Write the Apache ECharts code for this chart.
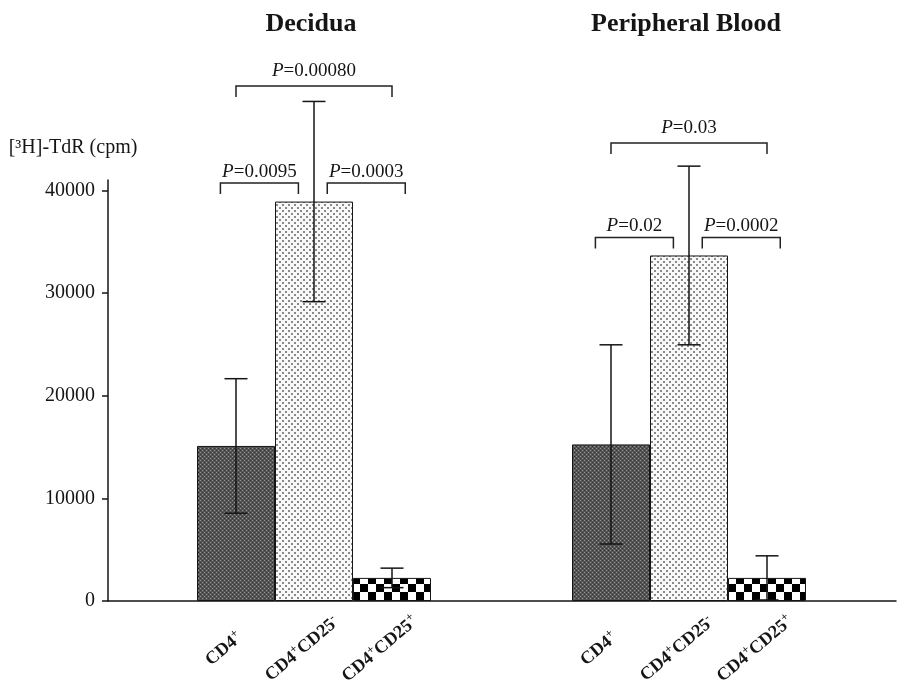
<!DOCTYPE html>
<html><head><meta charset="utf-8">
<script src="https://cdn.jsdelivr.net/npm/echarts@6/dist/echarts.min.js"></script>
<style>html,body{margin:0;padding:0;background:#fff}#c{width:897px;height:684px}</style>
</head><body><div id="c"></div>
<script>
// ---- data ----
const categories = ['CD4+', 'CD4+CD25-', 'CD4+CD25+'];
const panelTitles = ['Decidua', 'Peripheral Blood'];
const deciduaMean = [15100, 38900, 2250];
const deciduaErr = [6550, 9750, 950];
const bloodMean = [15250, 33650, 2250];
const bloodErr = [9700, 8700, 2150];
const yTicks = [0, 10000, 20000, 30000, 40000];
const yMax = 41000;
const deciduaPFrom = [0, 1, 0];
const deciduaPTo = [1, 2, 2];
const deciduaPY = [40700, 40700, 50150];
const deciduaPText = ['0.0095', '0.0003', '0.00080'];
const bloodPFrom = [0, 1, 0];
const bloodPTo = [1, 2, 2];
const bloodPY = [35400, 35400, 44600];
const bloodPText = ['0.02', '0.0002', '0.03'];

// ---- styles ----
const FONT = '"Liberation Serif", "DejaVu Serif", serif';
const INK = '#151515';
function makePattern(w, h, draw) {
  const c = document.createElement('canvas'); c.width = w; c.height = h;
  draw(c.getContext('2d'));
  return { image: c, repeat: 'repeat' };
}
const patDark = makePattern(4, 4, g => {
  g.fillStyle = '#555555'; g.fillRect(0, 0, 4, 4);
  g.fillStyle = '#959595'; g.fillRect(0, 0, 1, 1); g.fillRect(2, 2, 1, 1);
  g.fillStyle = '#333333'; g.fillRect(2, 0, 1, 1); g.fillRect(0, 2, 1, 1);
});
const patDots = makePattern(6, 6, g => {
  g.fillStyle = '#f8f8f8'; g.fillRect(0, 0, 6, 6);
  g.fillStyle = '#8a8a8a'; g.fillRect(0, 0, 2, 2); g.fillRect(3, 3, 2, 2);
});
const patCheck = makePattern(16, 16, g => {
  g.fillStyle = '#ffffff'; g.fillRect(0, 0, 16, 16);
  g.fillStyle = '#000000'; g.fillRect(0, 0, 8, 8); g.fillRect(8, 8, 8, 8);
});
const barPatterns = [patDark, patDots, patCheck];

const xLabel = {
  interval: 0, rotate: 40, align: 'center', verticalAlign: 'middle',
  margin: 38, padding: [0, 31, 0, 0],
  fontFamily: FONT, fontWeight: 'bold', fontSize: 18, color: INK, lineHeight: 22,
  formatter: v => v.replace(/([+-])/g, '{s|$1}'),
  rich: { s: { fontFamily: FONT, fontWeight: 'bold', fontSize: 12, lineHeight: 12, verticalAlign: 'top', color: INK } }
};

function errorRender(params, api) {
  const x = api.value(0), m = api.value(1), e = api.value(2);
  const top = api.coord([x, m + e]);
  const bot = api.coord([x, m - e]);
  const hw = 11.5;
  const st = { stroke: INK, lineWidth: 1.5 };
  return { type: 'group', children: [
    { type: 'line', shape: { x1: top[0], y1: top[1], x2: bot[0], y2: bot[1] }, style: st },
    { type: 'line', shape: { x1: top[0] - hw, y1: top[1], x2: top[0] + hw, y2: top[1] }, style: st },
    { type: 'line', shape: { x1: bot[0] - hw, y1: bot[1], x2: bot[0] + hw, y2: bot[1] }, style: st }
  ]};
}

function makeBracketRender(pFrom, pTo, pY, pText) {
  return function (params, api) {
    const i = params.dataIndex;
    const f = pFrom[i], t = pTo[i], yv = pY[i];
    const band = api.coord([1, 0])[0] - api.coord([0, 0])[0];
    const wide = (t - f) >= 2;
    const shift = wide ? 0 : (f === 0 ? -0.2 : 0.17) * band;
    const p1 = api.coord([f, yv]), p2 = api.coord([t, yv]);
    const x1 = p1[0] + shift, x2 = p2[0] + shift, y = p1[1];
    const drop = 11;
    return { type: 'group', children: [
      { type: 'polyline', shape: { points: [[x1, y + drop], [x1, y], [x2, y], [x2, y + drop]] },
        style: { stroke: '#222', lineWidth: 1.5, fill: null } },
      { type: 'text', style: {
          text: '{i|P}=' + pText[i], x: (x1 + x2) / 2, y: y - (wide ? 6 : 2),
          align: 'center', verticalAlign: 'bottom',
          fontFamily: FONT, fontSize: 19, fill: INK,
          rich: { i: { fontFamily: FONT, fontSize: 19, fontStyle: 'italic', fill: INK } }
      } }
    ]};
  };
}

function panelSeries(idx, mean, err, pFrom, pTo, pY, pText) {
  return [
    { type: 'bar', xAxisIndex: idx, yAxisIndex: idx, barCategoryGap: '0%',
      data: mean.map((v, i) => ({ value: v, itemStyle: { color: barPatterns[i] } })),
      itemStyle: { borderColor: INK, borderWidth: 1 }, silent: true, animation: false },
    { type: 'custom', xAxisIndex: idx, yAxisIndex: idx, z: 3, clip: false, silent: true, animation: false,
      data: mean.map((m, i) => [i, m, err[i]]), renderItem: errorRender },
    { type: 'custom', xAxisIndex: idx, yAxisIndex: idx, z: 3, clip: false, silent: true, animation: false,
      data: pY.map((y, i) => [pFrom[i], y]), renderItem: makeBracketRender(pFrom, pTo, pY, pText) }
  ];
}

const chart = echarts.init(document.getElementById('c'), null, { renderer: 'canvas' });
chart.setOption({
  animation: false,
  backgroundColor: '#ffffff',
  title: panelTitles.map((t, i) => ({
    text: t, left: [311, 686][i], top: 11, textAlign: 'center', padding: 0,
    textStyle: { fontFamily: FONT, fontWeight: 'bold', fontSize: 26, color: INK }
  })),
  grid: [
    { left: 108, right: 1, top: 180, bottom: 83, outerBoundsMode: 'none', containLabel: false },
    { left: 197, width: 234, top: 180, bottom: 83, outerBoundsMode: 'none', containLabel: false },
    { left: 572, width: 234, top: 180, bottom: 83, outerBoundsMode: 'none', containLabel: false }
  ],
  xAxis: [
    { gridIndex: 0, type: 'value', min: 0, max: 1,
      axisLine: { show: true, lineStyle: { color: INK, width: 1.5 } },
      axisTick: { show: false }, axisLabel: { show: false }, splitLine: { show: false } },
    { gridIndex: 1, type: 'category', data: categories, axisLine: { show: false }, axisTick: { show: false }, axisLabel: xLabel },
    { gridIndex: 2, type: 'category', data: categories, axisLine: { show: false }, axisTick: { show: false }, axisLabel: xLabel }
  ],
  yAxis: [
    { gridIndex: 0, type: 'value', min: 0, max: yMax,
      name: '[³H]-TdR (cpm)', nameLocation: 'end', nameGap: 22,
      nameTextStyle: { fontFamily: FONT, fontSize: 20, color: INK, align: 'center', padding: [0, 70, 0, 0] },
      axisLine: { show: true, lineStyle: { color: INK, width: 1.5 } },
      axisTick: { show: true, length: 6, customValues: yTicks, lineStyle: { color: INK, width: 1.5 } },
      axisLabel: { customValues: yTicks, margin: 13, fontFamily: FONT, fontSize: 20, color: INK, formatter: v => String(v) },
      splitLine: { show: false } },
    { gridIndex: 1, type: 'value', min: 0, max: yMax, show: false },
    { gridIndex: 2, type: 'value', min: 0, max: yMax, show: false }
  ],
  series: [
    ...panelSeries(1, deciduaMean, deciduaErr, deciduaPFrom, deciduaPTo, deciduaPY, deciduaPText),
    ...panelSeries(2, bloodMean, bloodErr, bloodPFrom, bloodPTo, bloodPY, bloodPText)
  ]
});
</script>
</body></html>
